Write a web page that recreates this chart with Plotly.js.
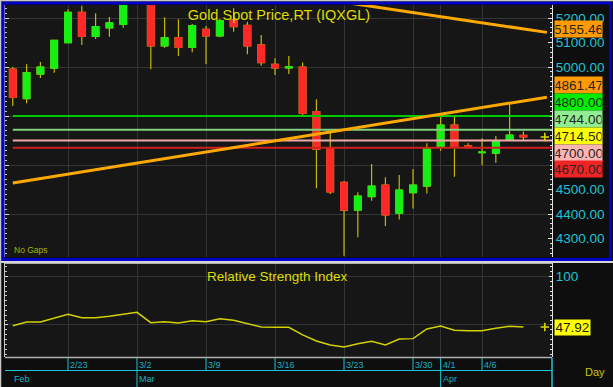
<!DOCTYPE html>
<html><head><meta charset="utf-8">
<script src="https://cdn.plot.ly/plotly-3.0.1.min.js"></script>
<style>html,body{margin:0;padding:0;background:#0e0e0e;}#chart{width:613px;height:387px;}</style>
</head><body><div id="chart"></div>
<script>
// ---------- data ----------
const days = ['2/17','2/18','2/19','2/20','2/23','2/24','2/25','2/26','2/27','3/2','3/3','3/4','3/5','3/6','3/9','3/10','3/11','3/12','3/13','3/16','3/17','3/18','3/19','3/20','3/23','3/24','3/25','3/26','3/27','3/30','3/31','4/1','4/2','4/3','4/6','4/7','4/8','4/9'];
const openP  = [4991,4871,4971,4995,5099,5223,5125,5160,5174,5300,5300,5086,5120,5080,5154,5127,5192,5170,5090,5011,4996,5000,4818,4671,4529,4416,4471,4518,4403,4487,4514,4672,4763,4678,4650,4648,4702,4721];
const highP  = [5001,5011,5020,5110,5236,5250,5219,5204,5290,5400,5330,5203,5195,5176,5167,5196,5240,5185,5131,5036,5045,5018,4868,4736,4535,4489,4604,4550,4559,4584,4689,4797,4797,4689,4709,4718,4852,4737];
const lowP   = [4841,4852,4955,4977,5097,5090,5114,5124,5160,5265,4991,5079,5045,5060,5012,5121,5144,5052,5005,4967,4971,4800,4505,4482,4230,4305,4454,4351,4378,4422,4484,4658,4552,4671,4599,4609,4702,4699];
const closeP = [4876,4977,5000,5109,5223,5125,5165,5180,5275,5340,5086,5120,5080,5169,5127,5189,5165,5086,5018,4996,5001,4811,4664,4490,4416,4473,4514,4396,4498,4518,4668,4763,4672,4671,4653,4699,4722,4714.5];
const rsi    = [49.3,53.1,53.1,56.9,61.1,57.6,57.6,59.0,61.1,63.1,52.4,53.4,52.1,54.5,53.4,56.5,54.8,51.4,47.9,47.6,47.6,39.7,33.5,29.3,27.2,30.7,33.1,29.3,35.5,35.9,45.9,49.0,44.5,44.1,44.1,46.6,48.7,47.92];
const dayTicks = ['2/23','3/2','3/9','3/16','3/23','3/30','4/1','4/6'];
const monthNames = ['Feb','Mar','Apr'];
const monthFirstDay = ['2/17','3/2','4/1'];
const priceTicks = [5200,5100,5000,4500,4400,4300];
const priceGrid = [5200,5000,4800,4600,4400];
const rsiTicks = [100];
const rsiGrid = [50,100];
const levelValues = [4800,4744,4700,4670];
const trendUpperX = [20,38.7], trendUpperY = [5297.6,5141.3];
const trendLowerX = [0,38.7],  trendLowerY = [4526.2,4876.9];
const labelValues = [5155.46,4861.47,4800,4744,4714.50,4700,4670];
const lastRsi = 47.92;

// ---------- styles ----------
const FONT = "'Liberation Sans Narrow','Arial Narrow','Liberation Sans',Arial,sans-serif";
const levelColors = ['#00c800','#80d080','#f0a8a8','#d02020'];
const labelColors = ['#ff9a00','#ff9a00','#00ee00','#90ee90','#ffff00','#ffb4b4','#f02424'];
const CYAN = '#1cc4d4', TEAL = '#1aaebe', YEL = '#dcdc00';
const Y0 = [4224.5,5253.1], R0 = [16.9,114.1];
const xIdx = days.map((d,i)=>i);
const X0 = [-0.565, 39.07];
const idxOf = d => days.indexOf(d);

const traces = [];
// wicks
traces.push({type:'candlestick', x:xIdx, open:openP, high:highP, low:lowP, close:closeP,
  increasing:{line:{color:'#c4b800',width:1.2},fillcolor:'rgba(0,0,0,0)'},
  decreasing:{line:{color:'#c4b800',width:1.2},fillcolor:'rgba(0,0,0,0)'},
  hoverinfo:'skip', showlegend:false, xaxis:'x', yaxis:'y'});
// bodies
traces.push({type:'candlestick', x:xIdx, open:openP, close:closeP,
  high:openP.map((o,i)=>Math.max(o,closeP[i])), low:openP.map((o,i)=>Math.min(o,closeP[i])),
  increasing:{line:{color:'#14f014',width:1},fillcolor:'#14f014'},
  decreasing:{line:{color:'#ff2828',width:1},fillcolor:'#ff2828'},
  hoverinfo:'skip', showlegend:false, xaxis:'x', yaxis:'y'});
// level lines
levelValues.forEach((v,k)=>traces.push({type:'scatter',mode:'lines',x:[0,X0[1]+1],y:[v,v],
  line:{color:levelColors[k],width:2},hoverinfo:'skip',xaxis:'x',yaxis:'y'}));
// trend lines
[[trendUpperX,trendUpperY],[trendLowerX,trendLowerY]].forEach(t=>traces.push({type:'scatter',mode:'lines',
  x:t[0],y:t[1],line:{color:'#ffa800',width:3},hoverinfo:'skip',xaxis:'x',yaxis:'y'}));
// last price marker (on label axis)
traces.push({type:'scatter',mode:'markers',x:[days.length+0.55],y:[closeP[closeP.length-1]],
  marker:{symbol:'cross-thin',size:6,line:{color:YEL,width:1.5}},hoverinfo:'skip',xaxis:'x',yaxis:'y3'});
// RSI
traces.push({type:'scatter',mode:'lines',x:xIdx,y:rsi,line:{color:'#d2d200',width:1.5},hoverinfo:'skip',xaxis:'x',yaxis:'y2'});
traces.push({type:'scatter',mode:'markers',x:[days.length+0.55],y:[lastRsi],
  marker:{symbol:'cross-thin',size:6,line:{color:YEL,width:1.5}},hoverinfo:'skip',xaxis:'x',yaxis:'y4'});

// ---------- label stacking ----------
const PH = 252; // top panel pixel height
const py = v => (Y0[1]-v)*PH/(Y0[1]-Y0[0]);
const H = 16.9;
let items = labelValues.map((v,i)=>({v,i,ideal:py(v)})).sort((a,b)=>a.ideal-b.ideal);
let clusters = items.map(it=>({m:[it],top:it.ideal-H/2}));
let merged = true;
while(merged){merged=false;
  for(let k=0;k<clusters.length-1;k++){const a=clusters[k],b=clusters[k+1];
    if(a.top+a.m.length*H>b.top){const m=a.m.concat(b.m);const mean=m.reduce((s,q)=>s+q.ideal,0)/m.length;
      clusters.splice(k,2,{m,top:mean-m.length*H/2-1.5});merged=true;break;}}}
clusters.forEach(c=>c.m.forEach((q,j)=>{q.placed=c.top+H/2+j*H;}));

const ann = [];
items.forEach(q=>ann.push({xref:'paper',x:1,xanchor:'left',xshift:2,yref:'y',y:q.v,yanchor:'middle',yshift:q.ideal-q.placed,
  text:q.v.toFixed(2),showarrow:false,bgcolor:labelColors[q.i],width:46,height:15,borderpad:0.5,align:'center',
  font:{family:FONT,size:13.5,color:'#262626'}}));
ann.push({xref:'paper',x:1,xanchor:'left',xshift:2,yref:'y2',y:lastRsi,yanchor:'middle',text:lastRsi.toFixed(2),
  showarrow:false,bgcolor:'#ffff00',width:34,height:14,borderpad:0.5,align:'center',font:{family:FONT,size:13.5,color:'#1a1a1a'}});
// day tick labels
dayTicks.forEach(d=>ann.push({xref:'x',x:idxOf(d),xanchor:'left',xshift:0,yref:'paper',y:(357-364.5)/352,yanchor:'middle',
  text:d,showarrow:false,font:{family:FONT,size:9,color:TEAL}}));
monthNames.forEach((mn,k)=>ann.push({xref:'x',x:idxOf(monthFirstDay[k]),xanchor:'left',xshift:k===0?-1:0,yref:'paper',y:(357-378.5)/352,yanchor:'middle',
  text:mn,showarrow:false,font:{family:FONT,size:9,color:TEAL}}));
ann.push({xref:'paper',x:(583-5)/547,xanchor:'left',yref:'paper',y:(357-372)/352,yanchor:'middle',text:'Day',showarrow:false,
  font:{family:FONT,size:11,color:'#c8c800'}});
ann.push({xref:'paper',x:(12-5)/547,xanchor:'left',yref:'paper',y:(357-249.5)/352,yanchor:'middle',text:'No Gaps',showarrow:false,
  font:{family:FONT,size:8.5,color:'#a8b400'}});
ann.push({xref:'paper',x:(277-5)/547,xanchor:'center',yref:'paper',y:(357-276)/352,yanchor:'middle',text:'Relative Strength Index',showarrow:false,
  font:{family:FONT,size:13.5,color:YEL}});

// ---------- shapes ----------
const px = X => (X-5)/547, pyp = Y => (357-Y)/352;
const shapes = [];
shapes.push({type:'line',xref:'paper',yref:'paper',x0:px(0),x1:px(613),y0:pyp(262),y1:pyp(262),line:{color:'#d4d4d4',width:2}});
shapes.push({type:'rect',xref:'paper',yref:'paper',x0:px(3),x1:px(610.5),y0:pyp(3),y1:pyp(259.5),line:{color:'#0000c8',width:3}});
shapes.push({type:'line',xref:'paper',yref:'paper',x0:px(0.5),x1:px(0.5),y0:pyp(0),y1:pyp(387),line:{color:'#c8c8c8',width:1.5}});
shapes.push({type:'line',xref:'paper',yref:'paper',x0:px(0),x1:px(613),y0:pyp(0.5),y1:pyp(0.5),line:{color:'#c8c8c8',width:1.5}});
shapes.push({type:'line',xref:'paper',yref:'paper',x0:0,x1:1,y0:pyp(263.5),y1:pyp(263.5),line:{color:'#b0b0b0',width:1}});
shapes.push({type:'line',xref:'paper',yref:'paper',x0:0,x1:1,y0:pyp(357.5),y1:pyp(357.5),line:{color:'#b0b0b0',width:1.5}});
shapes.push({type:'line',xref:'paper',yref:'paper',x0:0,x1:1,y0:pyp(370.5),y1:pyp(370.5),line:{color:CYAN,width:1}});
shapes.push({type:'line',xref:'paper',yref:'paper',x0:1,x1:1,y0:pyp(358),y1:pyp(387),line:{color:CYAN,width:1.5}});
dayTicks.forEach(d=>shapes.push({type:'line',xref:'x',yref:'paper',x0:idxOf(d),x1:idxOf(d),y0:pyp(358),y1:pyp(370.5),line:{color:CYAN,width:1}}));
monthFirstDay.slice(1).forEach(d=>shapes.push({type:'line',xref:'x',yref:'paper',x0:idxOf(d),x1:idxOf(d),y0:pyp(370.5),y1:pyp(387),line:{color:CYAN,width:1}}));

const tickFont = {family:FONT,size:13.5,color:CYAN};
const layout = {
  width:613,height:387,margin:{l:5,r:61,t:5,b:30},
  paper_bgcolor:'#0e0e0e',plot_bgcolor:'#161616',showlegend:false,dragmode:false,
  title:{text:'Gold Spot Price,RT (IQXGL)',x:(279)/613,xanchor:'center',xref:'container',y:1-15/387,yanchor:'middle',
    font:{family:FONT,size:14.5,color:YEL}},
  xaxis:{range:X0,domain:[0,1],anchor:'y2',tickmode:'array',tickvals:dayTicks.map(idxOf),showticklabels:false,ticks:'',
    showgrid:true,gridcolor:'#343434',gridwidth:1,zeroline:false,showline:false,rangeslider:{visible:false},fixedrange:true},
  yaxis:{domain:[1-252/352,1],range:Y0,anchor:'x',side:'left',tickmode:'array',tickvals:priceGrid,showticklabels:false,
    ticks:'inside',ticklen:4,tickcolor:'#d8d8d8',showgrid:true,gridcolor:'#343434',zeroline:false,showline:true,linecolor:'#c8c8c8',linewidth:1,
    minor:{ticks:'inside',ticklen:2,tickcolor:'#c8c8c8',tickmode:'linear',tick0:0,dtick:20,showgrid:false},fixedrange:true},
  yaxis3:{overlaying:'y',range:Y0,anchor:'x',side:'right',tickmode:'array',tickvals:priceTicks,tickformat:'.2f',tickfont:tickFont,
    ticks:'inside',ticklen:4,tickcolor:'#e0e0e0',showgrid:false,zeroline:false,showline:true,linecolor:'#e0e0e0',linewidth:1,
    minor:{ticks:'inside',ticklen:2,tickcolor:'#e0e0e0',tickmode:'linear',tick0:0,dtick:20,showgrid:false},fixedrange:true},
  yaxis2:{domain:[0,94/352],range:R0,anchor:'x',side:'left',tickmode:'array',tickvals:rsiGrid,showticklabels:false,
    ticks:'inside',ticklen:3,tickcolor:'#d8d8d8',showgrid:true,gridcolor:'#343434',zeroline:false,showline:true,linecolor:'#c8c8c8',linewidth:1,
    minor:{ticks:'inside',ticklen:2,tickcolor:'#c8c8c8',tickmode:'linear',tick0:0,dtick:5,showgrid:false},fixedrange:true},
  yaxis4:{overlaying:'y2',range:R0,anchor:'x',side:'right',tickmode:'array',tickvals:rsiTicks,tickformat:'d',tickfont:tickFont,
    ticks:'inside',ticklen:3,tickcolor:'#e0e0e0',showgrid:false,zeroline:false,showline:true,linecolor:'#e0e0e0',linewidth:1,
    minor:{ticks:'inside',ticklen:2,tickcolor:'#e0e0e0',tickmode:'linear',tick0:0,dtick:5,showgrid:false},fixedrange:true},
  annotations:ann,shapes:shapes
};
Plotly.newPlot('chart',traces,layout,{staticPlot:true,displayModeBar:false});
</script></body></html>
